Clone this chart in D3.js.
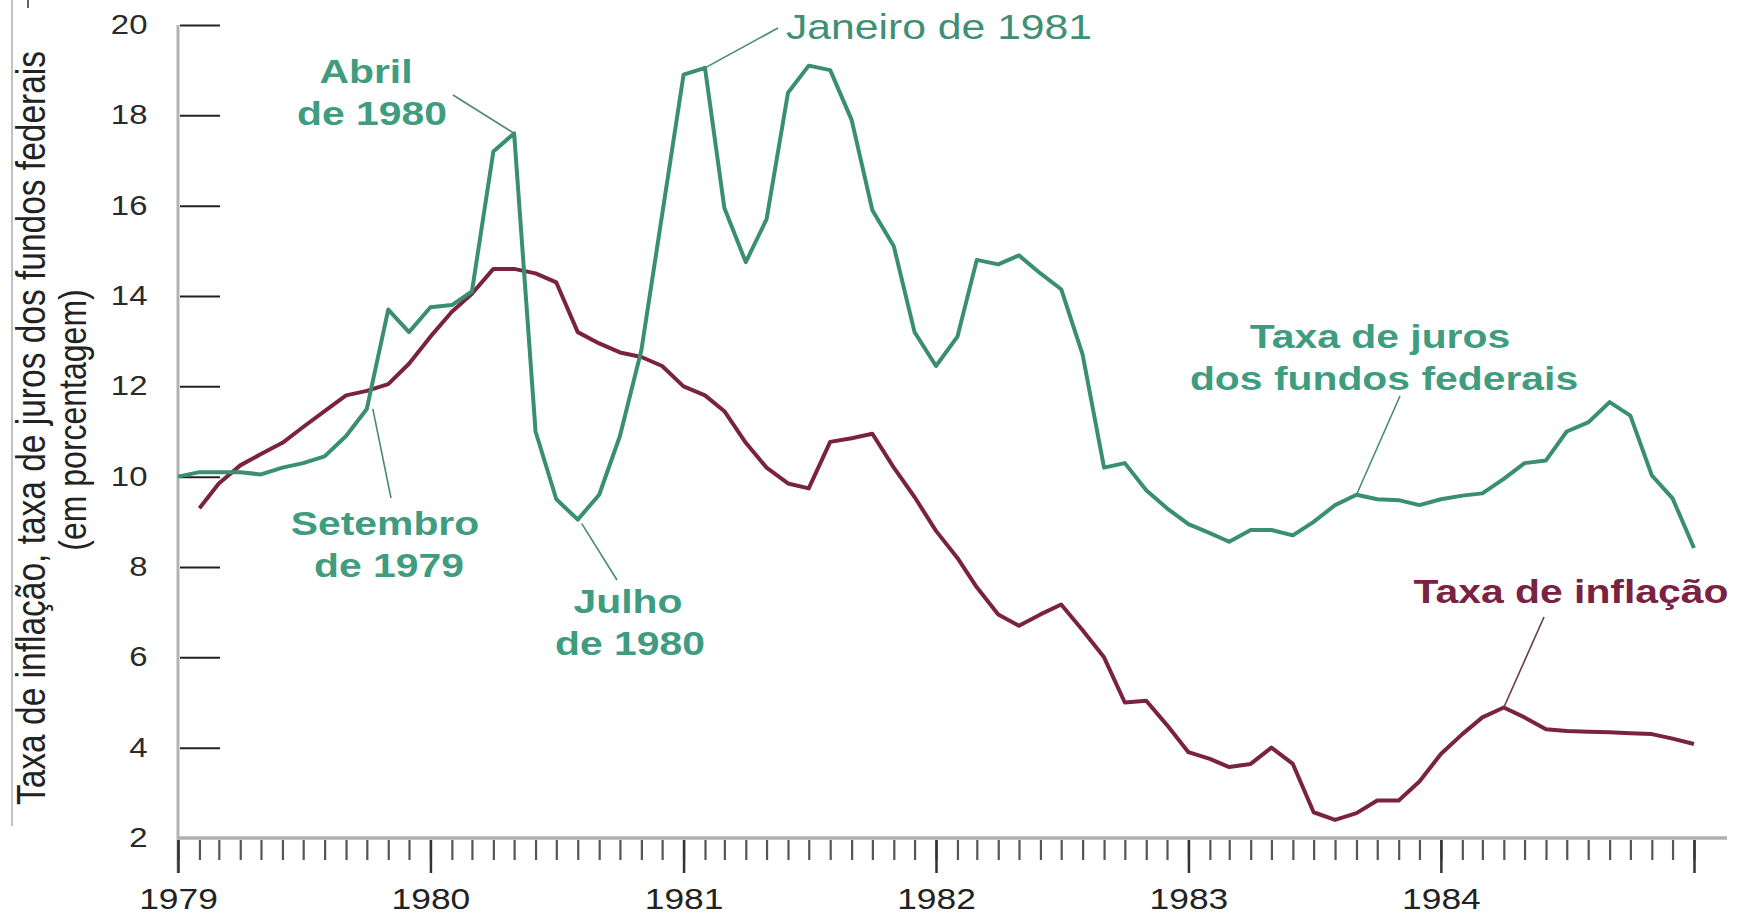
<!DOCTYPE html>
<html>
<head>
<meta charset="utf-8">
<script src="https://cdn.jsdelivr.net/npm/d3@7"></script>
<style>
  body { margin: 0; background: #fff; }
  svg { display: block; font-family: 'Liberation Sans', Arial, sans-serif; }
</style>
</head>
<body>
<div id="chart"></div>
<script>
// Monthly data, Dec 1978 .. Dec 1984 (each value drawn at the end of its month)
const firstMonth = new Date(1978, 11, 1);

const fedFunds = [
  10.0,
  10.1, 10.1, 10.1, 10.05, 10.2, 10.3, 10.45, 10.9, 11.5, 13.7, 13.2, 13.75,
  13.8, 14.1, 17.2, 17.6, 11.0, 9.5, 9.05, 9.6, 10.9, 12.8, 15.8, 18.9,
  19.05, 15.95, 14.75, 15.7, 18.5, 19.1, 19.0, 17.9, 15.9, 15.1, 13.2, 12.45,
  13.1, 14.8, 14.7, 14.9, 14.5, 14.15, 12.7, 10.2, 10.3, 9.7, 9.3, 8.95,
  8.75, 8.56, 8.82, 8.82, 8.7, 9.0, 9.37, 9.6, 9.5, 9.48, 9.37, 9.5,
  9.58, 9.63, 9.95, 10.3, 10.36, 11.0, 11.2, 11.65, 11.35, 10.03, 9.52, 8.42
];

const inflation = [
  null,
  9.3, 9.85, 10.25, 10.5, 10.75, 11.1, 11.45, 11.8, 11.9, 12.05, 12.5, 13.1,
  13.65, 14.05, 14.6, 14.6, 14.5, 14.3, 13.2, 12.95, 12.75, 12.65, 12.45, 12.0,
  11.8, 11.45, 10.75, 10.2, 9.85, 9.74, 10.77, 10.85, 10.95, 10.2, 9.55, 8.8,
  8.2, 7.55, 6.95, 6.7, 6.95, 7.17, 6.6, 6.0, 5.0, 5.04, 4.5, 3.9,
  3.75, 3.57, 3.64, 4.0, 3.64, 2.57, 2.4, 2.55, 2.83, 2.83, 3.25, 3.86,
  4.3, 4.67, 4.89, 4.67, 4.41, 4.37, 4.35, 4.34, 4.32, 4.3, 4.2, 4.08
];

const yTicks = [2, 4, 6, 8, 10, 12, 14, 16, 18, 20];
const yearLabels = ['1979', '1980', '1981', '1982', '1983', '1984'];

const months = d3.timeMonth.range(firstMonth, new Date(1985, 0, 1));

const width = 1742;
const height = 916;
const stretch = 1.22; // the source picture is widened horizontally

const green = '#3a8e72';
const greenText = '#3f9c7e';
const red = '#7a2242';

const svg = d3
  .select('#chart')
  .append('svg')
  .attr('width', width)
  .attr('height', height);

svg.append('rect').attr('width', width).attr('height', height).attr('fill', '#fff');

// Scales
const x = d3
  .scaleTime()
  .domain([new Date(1979, 0, 1), new Date(1985, 0, 1)])
  .range([178, 1694]);

const y = d3.scaleLinear().domain([2, 20]).range([838, 25]);

// Date at which a month's value is plotted (end of month)
const px = (i) => x(d3.timeMonth.offset(months[i], 1));

// stray scan edges on the left
svg.append('line').attr('x1', 12).attr('x2', 12).attr('y1', 0).attr('y2', 826)
  .attr('stroke', '#999').attr('stroke-width', 1.2);
svg.append('line').attr('x1', 28).attr('x2', 28).attr('y1', 0).attr('y2', 8)
  .attr('stroke', '#333').attr('stroke-width', 1.5);

// Y axis
svg.append('line')
  .attr('x1', 178).attr('x2', 178)
  .attr('y1', y(20)).attr('y2', 873)
  .attr('stroke', '#b4b4b4').attr('stroke-width', 3);

const yAxis = svg
  .append('g')
  .attr('transform', 'translate(178,0)')
  .call(d3.axisLeft(y).tickValues(yTicks).tickSizeInner(-42).tickSizeOuter(0).tickPadding(25));
yAxis.select('.domain').remove();
yAxis.selectAll('.tick line')
  .attr('stroke', '#222').attr('stroke-width', 2)
  .attr('x1', 2)
  .style('display', (d) => (d === 2 ? 'none' : null));
yAxis.selectAll('.tick text')
  .attr('fill', '#2a2a2a')
  .style('font-size', '27px')
  .attr('transform', `scale(${stretch},1)`);

// X axis baseline
svg.append('line')
  .attr('x1', 178).attr('x2', 1727)
  .attr('y1', 838).attr('y2', 838)
  .attr('stroke', '#b0b0b0').attr('stroke-width', 3.5);

// monthly minor ticks
const xMinor = svg
  .append('g')
  .attr('transform', 'translate(0,840)')
  .call(d3.axisBottom(x).ticks(d3.timeMonth.every(1)).tickSize(20).tickFormat(''));
xMinor.select('.domain').remove();
xMinor.selectAll('.tick line').attr('stroke', '#555').attr('stroke-width', 2.2);

// yearly major ticks with labels
const xMajor = svg
  .append('g')
  .attr('transform', 'translate(0,840)')
  .call(
    d3.axisBottom(x)
      .ticks(d3.timeYear.every(1))
      .tickSize(33)
      .tickFormat((d) => {
        const s = d3.timeFormat('%Y')(d);
        return yearLabels.includes(s) ? s : '';
      }),
  );
xMajor.select('.domain').remove();
xMajor.selectAll('.tick line').attr('stroke', '#333').attr('stroke-width', 2.5);
xMajor.selectAll('.tick text')
  .attr('fill', '#222')
  .attr('y', 48)
  .attr('dy', '0.71em')
  .style('font-size', '29px')
  .attr('transform', `scale(${stretch},1)`);

// Lines
const line = d3
  .line()
  .defined((d) => d != null)
  .x((d, i) => px(i))
  .y((d) => y(d));

svg.append('path')
  .datum(inflation)
  .attr('fill', 'none')
  .attr('stroke', red)
  .attr('stroke-width', 4)
  .attr('stroke-linejoin', 'round')
  .attr('d', line);

svg.append('path')
  .datum(fedFunds)
  .attr('fill', 'none')
  .attr('stroke', green)
  .attr('stroke-width', 4)
  .attr('stroke-linejoin', 'round')
  .attr('d', line);

// Y axis title
const yTitle = [
  { text: 'Taxa de inflação, taxa de juros dos fundos federais', x: 45, y: 428, size: 33.5 },
  { text: '(em porcentagem)', x: 86, y: 420, size: 32 },
];
yTitle.forEach((t) => {
  svg.append('text')
    .attr('transform', `translate(${t.x},${t.y}) scale(${stretch},1) rotate(-90)`)
    .attr('text-anchor', 'middle')
    .attr('fill', '#222')
    .style('font-size', t.size + 'px')
    .text(t.text);
});

// Annotations: month index, pixel end of leader, text lines
const notes = [
  { series: fedFunds, i: 16, to: [453, 95], color: greenText, lc: '#4a8a75', weight: 'bold', size: 33.5,
    lines: [['Abril', 366, 83], ['de 1980', 372, 125]] },
  { series: fedFunds, i: 9, to: [391, 498], color: greenText, lc: '#4a8a75', weight: 'bold', size: 33.5, dx: 6, dy: 0,
    lines: [['Setembro', 385, 535], ['de 1979', 389, 577]] },
  { series: fedFunds, i: 19, to: [617, 580], color: greenText, lc: '#4a8a75', weight: 'bold', size: 33.5, dx: 4, dy: 4,
    lines: [['Julho', 628, 613], ['de 1980', 630, 655]] },
  { series: fedFunds, i: 25, to: [778, 28], color: '#3e8f74', lc: '#4a8a75', weight: 'normal', size: 35,
    lines: [['Janeiro de 1981', 939, 39]] },
  { series: fedFunds, i: 56, to: [1400, 396], color: greenText, lc: '#4a8a75', weight: 'bold', size: 33.5,
    lines: [['Taxa de juros', 1380, 348], ['dos fundos federais', 1384, 390]] },
  { series: inflation, i: 63, to: [1544, 617], color: red, lc: '#6a3a4a', weight: 'bold', size: 33.5,
    lines: [['Taxa de inflação', 1571, 603]] },
];

notes.forEach((n) => {
  svg.append('line')
    .attr('x1', px(n.i) + (n.dx || 0))
    .attr('y1', y(n.series[n.i]) + (n.dy || 0))
    .attr('x2', n.to[0])
    .attr('y2', n.to[1])
    .attr('stroke', n.lc)
    .attr('stroke-width', 1.6);
  n.lines.forEach(([txt, tx, ty]) => {
    svg.append('text')
      .attr('transform', `translate(${tx},${ty}) scale(${stretch},1)`)
      .attr('text-anchor', 'middle')
      .attr('fill', n.color)
      .style('font-size', n.size + 'px')
      .style('font-weight', n.weight)
      .text(txt);
  });
});
</script>
</body>
</html>
